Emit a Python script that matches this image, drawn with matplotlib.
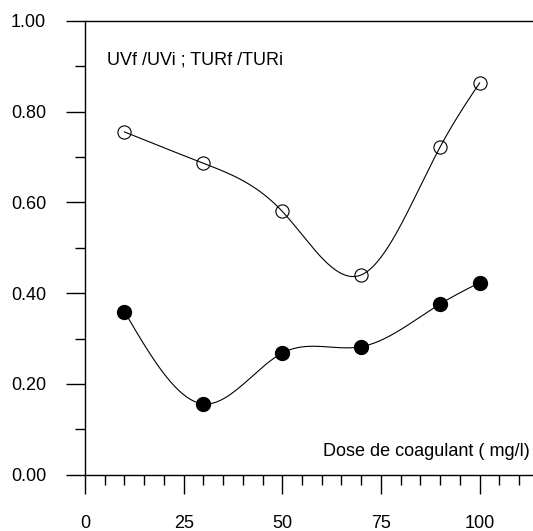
import numpy as np
import matplotlib.pyplot as plt
from matplotlib.ticker import MultipleLocator, FormatStrFormatter

plt.rcParams['font.family'] = ['Liberation Sans', 'DejaVu Sans']

dose = [10, 30, 50, 70, 90, 100]
uv_ratio = [0.755, 0.686, 0.580, 0.440, 0.722, 0.863]
tur_ratio = [0.359, 0.156, 0.268, 0.282, 0.376, 0.423]


def spline(x, y, n=300):
    # natural cubic spline, only used to draw the smooth line
    x = np.asarray(x, float)
    y = np.asarray(y, float)
    k = len(x)
    h = np.diff(x)
    A = np.zeros((k, k))
    b = np.zeros(k)
    A[0, 0] = A[-1, -1] = 1
    for i in range(1, k - 1):
        A[i, i - 1] = h[i - 1]
        A[i, i] = 2 * (h[i - 1] + h[i])
        A[i, i + 1] = h[i]
        b[i] = 6 * ((y[i + 1] - y[i]) / h[i] - (y[i] - y[i - 1]) / h[i - 1])
    m = np.linalg.solve(A, b)
    xs = np.linspace(x[0], x[-1], n)
    idx = np.clip(np.searchsorted(x, xs) - 1, 0, k - 2)
    x0, x1 = x[idx], x[idx + 1]
    hh = x1 - x0
    t0, t1 = x1 - xs, xs - x0
    ys = (m[idx] * t0**3 + m[idx + 1] * t1**3) / (6 * hh) \
        + (y[idx] / hh - m[idx] * hh / 6) * t0 \
        + (y[idx + 1] / hh - m[idx + 1] * hh / 6) * t1
    return xs, ys


fig = plt.figure(figsize=(5.33, 5.31), dpi=100)
ax = fig.add_axes([0.1595, 0.106, 0.8395, 0.855])

xs, ys = spline(dose, uv_ratio)
ax.plot(xs, ys, color='black', lw=0.8)
ax.plot(dose, uv_ratio, 'o', mfc='none', mec='black', mew=0.8, ms=9.5)

xs, ys = spline(dose, tur_ratio)
ax.plot(xs, ys, color='black', lw=0.8)
ax.plot(dose, tur_ratio, 'o', color='black', ms=10)

ax.set_xlim(0, 113.4)
ax.set_ylim(0, 1)
ax.spines['right'].set_visible(False)
for s in ['left', 'bottom', 'top']:
    ax.spines[s].set_linewidth(1.0)
ax.spines['top'].set_zorder(0)

ax.xaxis.set_major_locator(MultipleLocator(25))
ax.xaxis.set_minor_locator(MultipleLocator(5))
ax.yaxis.set_major_locator(MultipleLocator(0.2))
ax.yaxis.set_minor_locator(MultipleLocator(0.1))
ax.yaxis.set_major_formatter(FormatStrFormatter('%.2f'))
ax.tick_params(which='major', direction='out', length=14, width=1.0, labelsize=13, pad=15)
ax.tick_params(axis='y', which='major', pad=14)
ax.tick_params(which='minor', direction='out', length=7, width=1.0)
ax.tick_params(top=False, right=False, which='both')

ax.text(5.6, 0.914, 'UVf /UVi ; TURf /TURi', fontsize=13, va='center', ha='left')
ax.text(112.8, 0.051, 'Dose de coagulant ( mg/l)', fontsize=13, va='center', ha='right')

fig.savefig('out.png', dpi=100)
